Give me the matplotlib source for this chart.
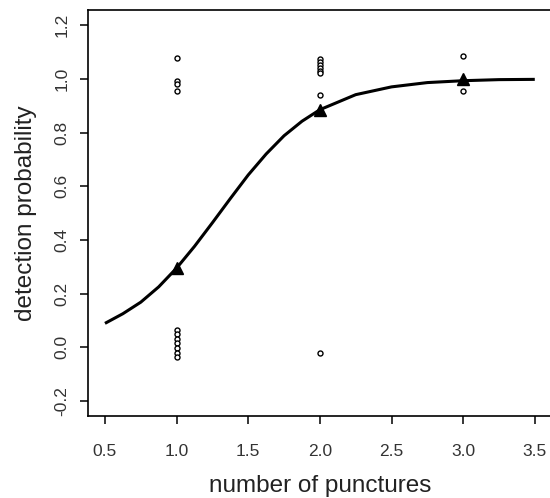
import matplotlib
matplotlib.use('Agg')
import matplotlib.pyplot as plt

plt.rcParams['font.family'] = ['Liberation Sans', 'DejaVu Sans']

# jittered raw observations (0 = missed, 1 = detected)
obs_x = [1, 1, 1, 1, 1, 1, 1, 1, 1, 1, 1,
         2, 2, 2, 2, 2, 2, 2, 2,
         3, 3]
obs_y = [1.077, 0.993, 0.982, 0.953, 0.064, 0.048, 0.032, 0.017, -0.001, -0.020, -0.038,
         1.073, 1.062, 1.050, 1.040, 1.030, 1.022, 0.940, -0.023,
         1.085, 0.953]

# observed proportions
mean_x = [1, 2, 3]
mean_y = [0.295, 0.885, 1.0]

# fitted curve
fit_x = [0.5, 0.625, 0.75, 0.875, 1.0, 1.125, 1.25, 1.375, 1.5, 1.625, 1.75, 1.875,
         2.0, 2.25, 2.5, 2.75, 3.0, 3.25, 3.5]
fit_y = [0.089, 0.125, 0.168, 0.225, 0.295, 0.376, 0.464, 0.554, 0.642, 0.720, 0.788, 0.842,
         0.885, 0.941, 0.970, 0.986, 0.993, 0.997, 0.998]

x_ticks = [0.5, 1.0, 1.5, 2.0, 2.5, 3.0, 3.5]
y_ticks = [-0.2, 0.0, 0.2, 0.4, 0.6, 0.8, 1.0, 1.2]

fig = plt.figure(figsize=(5.5, 4.98), dpi=100)
ax = fig.add_axes([0.1596, 0.1647, 0.844, 0.815])

ax.plot(fit_x, fit_y, color='black', lw=2.2, solid_capstyle='butt')
ax.plot(obs_x, obs_y, 'o', ms=3.6, mfc='white', mec='black', mew=1.0)
ax.plot(mean_x, mean_y, '^', ms=8, color='black')

ax.set_xlim(0.38, 3.62)
ax.set_ylim(-0.256, 1.256)
ax.set_xticks(x_ticks)
ax.set_xticklabels(['%.1f' % v for v in x_ticks])
ax.set_yticks(y_ticks)
ax.set_yticklabels(['%.1f' % v for v in y_ticks], rotation=90, va='center')

ax.tick_params(axis='both', direction='out', length=6, width=1.1, labelsize=12.5,
               colors='black', labelcolor='#333333')
ax.tick_params(axis='x', pad=14)
ax.tick_params(axis='y', pad=7)
for s in ax.spines.values():
    s.set_linewidth(1.2)

ax.set_xlabel('number of punctures', fontsize=17.5, labelpad=12, color='#222222')
ax.set_ylabel('detection probability', fontsize=17.5, labelpad=13, color='#222222')

plt.savefig('out.png', dpi=100)
